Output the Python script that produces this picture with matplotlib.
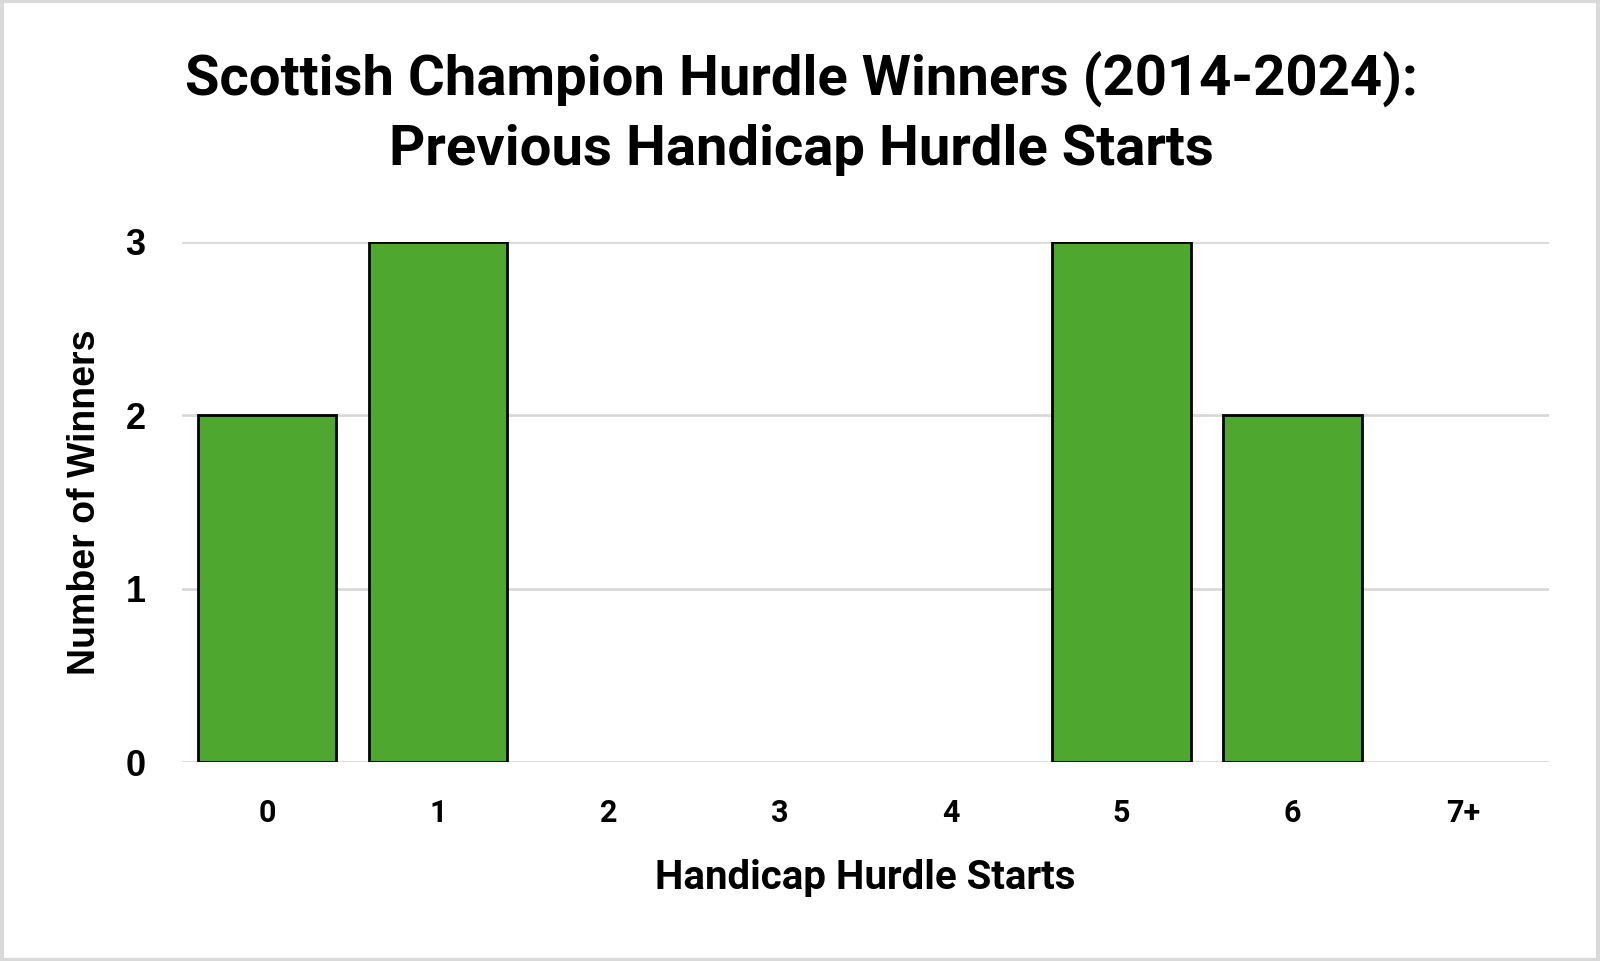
import matplotlib
matplotlib.use("Agg")
import matplotlib.pyplot as plt
from matplotlib.patches import Rectangle

categories = ["0", "1", "2", "3", "4", "5", "6", "7+"]
winners = [2, 3, 0, 0, 0, 3, 2, 0]
y_ticks = [0, 1, 2, 3]

title = "Scottish Champion Hurdle Winners (2014-2024):\nPrevious Handicap Hurdle Starts"

fig = plt.figure(figsize=(16, 9.61), dpi=100)
ax = fig.add_axes([0.1135, 0.207, 0.8545, 0.5414])

x = list(range(len(categories)))
# empty categories get no outline, as in the original
edge_w = [2 if v > 0 else 0 for v in winners]
ax.bar(x, winners, width=0.81, color="#4ea72e", edgecolor="black", linewidth=edge_w, zorder=3)

ax.set_xlim(-0.5, len(categories) - 0.5)
ax.set_ylim(0, 3)
ax.set_yticks(y_ticks)
ax.set_xticks(x)
ax.set_xticklabels(categories, fontfamily="Roboto", fontweight="bold", fontsize=22)
ax.set_yticklabels([str(t) for t in y_ticks], fontfamily="Liberation Sans", fontweight="bold", fontsize=26)
ax.tick_params(axis="x", length=0, pad=26)
ax.tick_params(axis="y", length=0, pad=26)
ax.grid(axis="y", color="#d9d9d9", linewidth=2, zorder=0)
ax.set_axisbelow(True)
for s in ax.spines.values():
    s.set_visible(False)

ax.set_xlabel("Handicap Hurdle Starts", fontfamily="Roboto", fontweight="bold", fontsize=29, labelpad=22)
ax.set_ylabel("Number of Winners", fontfamily=["Liberation Sans Narrow", "Liberation Sans"],
              fontweight="bold", fontsize=27, labelpad=16)

fig.text(0.5006, 0.882, title, ha="center", va="center", fontfamily="Roboto",
         fontweight="bold", fontsize=40.5, linespacing=1.4)

# light grey frame round the picture
fig.patches.append(Rectangle((0.001, 0.0015), 0.998, 0.997, transform=fig.transFigure,
                             fill=False, edgecolor="#d9d9d9", linewidth=3))

fig.savefig("out.png", dpi=100)
